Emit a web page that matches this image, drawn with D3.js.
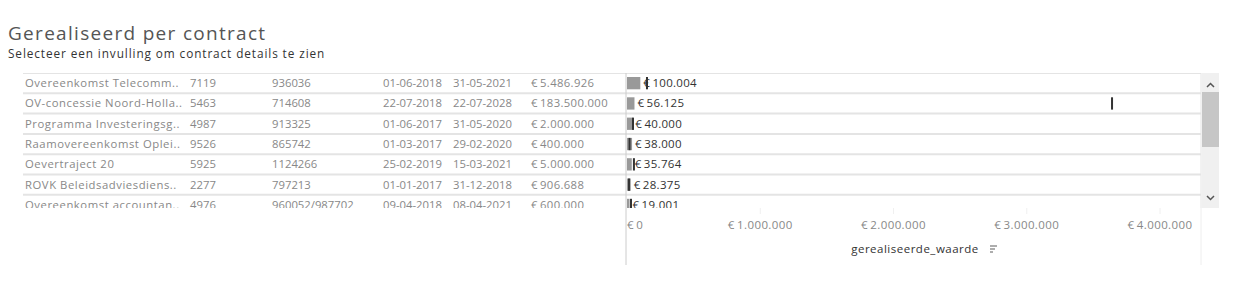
<!DOCTYPE html>
<html><head><meta charset="utf-8">
<script src="https://cdn.jsdelivr.net/npm/d3@7"></script>
<style>
body{margin:0;background:#fff;}
svg{display:block;font-family:"Open Sans",Lato,sans-serif;}
</style></head><body>
<script>
const names = ["Overeenkomst Telecomm..","OV-concessie Noord-Holla..","Programma Investeringsg..","Raamovereenkomst Oplei..","Oevertraject 20","ROVK Beleidsadviesdiens..","Overeenkomst accountan.."];
const ids = ["7119","5463","4987","9526","5925","2277","4976"];
const refs = ["936036","714608","913325","865742","1124266","797213","960052/987702"];
const startDates = ["01-06-2018","22-07-2018","01-06-2017","01-03-2017","25-02-2019","01-01-2017","09-04-2018"];
const endDates = ["31-05-2021","22-07-2028","31-05-2020","29-02-2020","15-03-2021","31-12-2018","08-04-2021"];
const contractValues = [5486926,183500000,2000000,400000,5000000,906688,600000];
const realised = [100004,56125,40000,38000,35764,28375,19001];
const markers = [150000,3640000,45000,19000,52000,15000,30000];
const ticks = [0,1000000,2000000,3000000,4000000];

const W=1245,H=288;
const svg=d3.select("body").append("svg").attr("width",W).attr("height",H);
const loc=d3.formatLocale({decimal:",",thousands:".",grouping:[3],currency:["€\u2009",""]});
const eur=loc.format("$,.0f");

svg.append("text").attr("x",8).attr("y",40).attr("font-size",19).attr("letter-spacing",1.3).attr("fill","#555").text("Gerealiseerd per contract");
svg.append("text").attr("x",8).attr("y",58).attr("font-size",11.8).attr("letter-spacing",0.9).attr("fill","#333").text("Selecteer een invulling om contract details te zien");

const tableTop=73, rowH=20.3, clipBottom=208;
const x=d3.scaleLinear().domain([0,4000000]).range([627,1160]);
const y=d3.scaleBand().domain(d3.range(names.length)).range([tableTop,tableTop+rowH*names.length]);

svg.append("defs").append("clipPath").attr("id","clip").append("rect").attr("x",0).attr("y",tableTop).attr("width",1202).attr("height",clipBottom-tableTop);
const g=svg.append("g").attr("clip-path","url(#clip)");

g.selectAll("line.row").data(d3.range(names.length+1)).join("line")
 .attr("x1",23).attr("x2",1201).attr("y1",i=>tableTop+i*rowH).attr("y2",i=>tableTop+i*rowH)
 .attr("stroke","#e4e4e4").attr("stroke-width",2);

const cols=[{x:25,v:names,ls:0.55},{x:190,v:ids,ls:0},{x:272,v:refs,ls:0},{x:383,v:startDates,ls:0},{x:453,v:endDates,ls:0},{x:531,v:contractValues.map(eur),ls:0.35}];
cols.forEach(c=>{
  g.selectAll(null).data(c.v).join("text").attr("x",c.x).attr("y",(d,i)=>y(i)+rowH/2+4)
   .attr("font-size",11.3).attr("letter-spacing",c.ls).attr("fill","#888").text(d=>d);
});

g.selectAll("rect.bar").data(realised).join("rect").attr("x",x(0)).attr("y",(d,i)=>y(i)+4).attr("height",rowH-8)
 .attr("width",d=>x(d)-x(0)).attr("fill","#999");
g.selectAll("rect.mk").data(markers).join("rect").attr("x",d=>x(d)-1).attr("y",(d,i)=>y(i)+4).attr("height",rowH-8)
 .attr("width",2).attr("fill","#333");
g.selectAll("text.lbl").data(realised).join("text").attr("x",d=>x(d)+3).attr("y",(d,i)=>y(i)+rowH/2+4)
 .attr("font-size",11.5).attr("letter-spacing",0.3).attr("fill","#333").text(d=>eur(d));

svg.append("line").attr("x1",1201).attr("x2",1201).attr("y1",tableTop).attr("y2",clipBottom).attr("stroke","#e4e4e4");
svg.append("line").attr("x1",1201).attr("x2",1201).attr("y1",clipBottom).attr("y2",265).attr("stroke","#eee");
svg.append("rect").attr("x",1202).attr("y",tableTop).attr("width",17).attr("height",clipBottom-tableTop).attr("fill","#f0f0f0");
svg.append("rect").attr("x",1202).attr("y",92).attr("width",17).attr("height",55).attr("fill","#c6c6c6");
svg.append("path").attr("d","M1207,87 L1210.5,83.5 L1214,87").attr("fill","none").attr("stroke","#555").attr("stroke-width",1.5);
svg.append("path").attr("d","M1207,196 L1210.5,199.5 L1214,196").attr("fill","none").attr("stroke","#555").attr("stroke-width",1.5);

svg.append("line").attr("x1",626).attr("x2",626).attr("y1",tableTop).attr("y2",265).attr("stroke","#ccc");
svg.selectAll("line.tk").data(ticks.slice(1)).join("line").attr("x1",d=>x(d)).attr("x2",d=>x(d))
 .attr("y1",clipBottom).attr("y2",214).attr("stroke","#f0f0f0");
svg.selectAll("text.tk").data(ticks).join("text").attr("x",d=>d===0?627:x(d)).attr("y",229)
 .attr("text-anchor",d=>d===0?"start":"middle").attr("font-size",11.5).attr("letter-spacing",0.4).attr("fill","#888").text(d=>eur(d));
svg.append("text").attr("x",915).attr("y",253).attr("text-anchor","middle").attr("font-size",11.5).attr("letter-spacing",0.5).attr("fill","#333").text("gerealiseerde_waarde");
const ic=svg.append("g").attr("stroke","#777").attr("stroke-width",1.2);
[7,5,3].forEach((w,i)=>ic.append("line").attr("x1",990).attr("x2",990+w).attr("y1",246+i*3).attr("y2",246+i*3));
</script>
</body></html>
